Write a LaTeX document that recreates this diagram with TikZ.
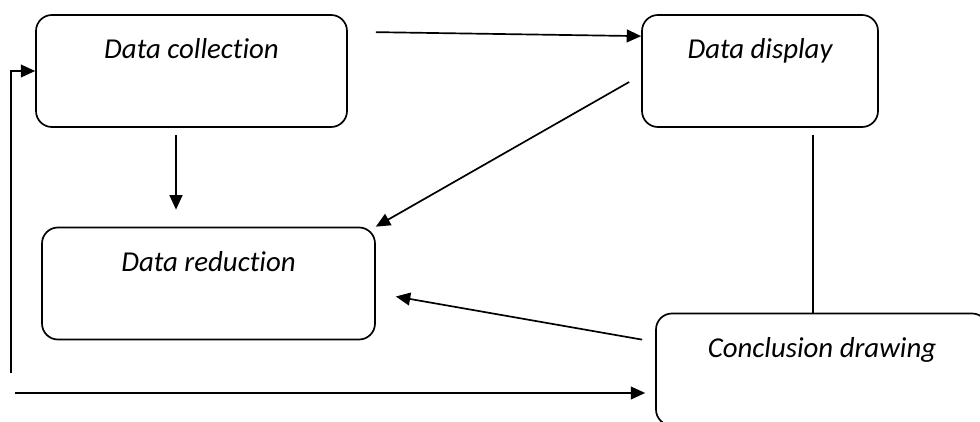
\documentclass[tikz,border=0pt]{standalone}
\usepackage{fontspec}
\setmainfont{Carlito}[Ligatures=NoCommon]
\usetikzlibrary{arrows.meta,positioning,calc}

\begin{document}
\begin{tikzpicture}[x=0.025cm, y=-0.025cm,
    box/.style={draw, rounded corners=0.4cm, line width=1.2pt, inner sep=0pt,
                text height=1.1cm, text depth=1.7cm,
                font=\fontsize{20.5}{24}\selectfont\itshape},
    arrow/.style={-{Triangle[length=0.36cm, width=0.32cm]}, line width=1.2pt},
    link/.style={line width=1.2pt},
]
    \useasboundingbox (0,0) rectangle (980,421);
    \clip (0,0) rectangle (980,421);

    \node[box, minimum width=311*0.025cm] (coll) at (191.5,71) {Data collection};
    \node[box, minimum width=236*0.025cm] (disp) at (760,71) {Data display};
    \node[box, minimum width=333*0.025cm] (red) at (208.5,283.5) {Data reduction};
    \node[box, minimum width=332*0.025cm] (concl) at (822,369.5) {Conclusion drawing};

    \coordinate (loopstart) at (11,373);
    \coordinate (basestart) at (15,393);

    \draw[arrow] ([shift={(28,18)}]coll.north east) -- ([shift={(0,22)}]disp.north west);
    \draw[arrow] ([shift={(-15.5,7)}]coll.south) -- ([shift={(-32.5,-17)}]red.north);
    \draw[arrow] ([shift={(-12,11)}]disp.west) -- (red.north east);
    \draw[arrow] ([shift={(-13,27)}]concl.north west) -- ([shift={(20,13)}]red.east);
    \draw[link] ([shift={(53,7)}]disp.south) -- ([shift={(-9,0)}]concl.north);

    \draw[arrow] (loopstart) |- (coll.west);
    \draw[arrow, shorten >=0.25cm] (basestart) -- (basestart -| concl.west);
\end{tikzpicture}
\end{document}
